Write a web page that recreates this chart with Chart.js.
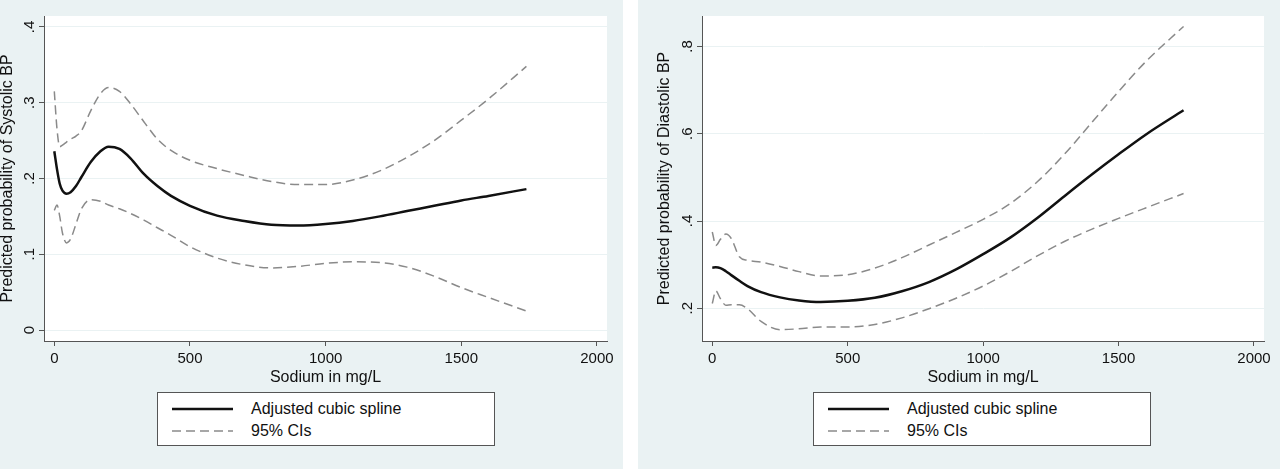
<!DOCTYPE html>
<html>
<head>
<meta charset="utf-8">
<script src="https://cdn.jsdelivr.net/npm/chart.js@4.4.1/dist/chart.umd.min.js"></script>
<style>
  body { margin: 0; background: #ffffff; font-family: "Liberation Sans", Arial, sans-serif; }
  .panel { position: absolute; top: 0; height: 469px; background: #eaf2f3; }
  .panel canvas { position: absolute; left: 0; top: 0; }
  .legend { position: absolute; top: 392px; width: 336px; height: 52px; background: #fff; border: 1px solid #555; }
  .legend .row { position: absolute; left: 13px; height: 20px; }
  .legend svg { position: absolute; left: 0; top: 0; }
  .legend span { position: absolute; left: 80px; top: 0; line-height: 20px; font-size: 16px; color: #111; white-space: nowrap; }
</style>
</head>
<body>
<div class="panel" style="left:0;width:623px;">
  <canvas id="sys" width="623" height="400"></canvas>
  <div class="legend" style="left:157px;">
    <div class="row" style="top:6px;"><svg width="62" height="20"><line x1="1" y1="10" x2="62" y2="10" stroke="#111" stroke-width="2.5"/></svg><span>Adjusted cubic spline</span></div>
    <div class="row" style="top:28px;"><svg width="62" height="20"><line x1="1" y1="10" x2="62" y2="10" stroke="#8a8a8a" stroke-width="1.5" stroke-dasharray="9 5"/></svg><span>95% CIs</span></div>
  </div>
</div>
<div class="panel" style="left:638px;width:642px;">
  <canvas id="dia" width="642" height="400"></canvas>
  <div class="legend" style="left:175px;">
    <div class="row" style="top:6px;"><svg width="62" height="20"><line x1="1" y1="10" x2="62" y2="10" stroke="#111" stroke-width="2.5"/></svg><span>Adjusted cubic spline</span></div>
    <div class="row" style="top:28px;"><svg width="62" height="20"><line x1="1" y1="10" x2="62" y2="10" stroke="#8a8a8a" stroke-width="1.5" stroke-dasharray="9 5"/></svg><span>95% CIs</span></div>
  </div>
</div>
<script>
// sodium (mg/L) grid and values
const sodiumSys = [0, 10, 20, 30, 45, 60, 80, 100, 135, 170, 200, 240, 280, 330, 380, 430, 500, 600, 700, 800, 900, 1000, 1100, 1200, 1300, 1400, 1500, 1600, 1740];
const fitSys   = [0.236, 0.212, 0.193, 0.184, 0.180, 0.182, 0.190, 0.202, 0.222, 0.236, 0.242, 0.239, 0.227, 0.206, 0.190, 0.177, 0.164, 0.151, 0.144, 0.139, 0.138, 0.140, 0.144, 0.150, 0.157, 0.164, 0.171, 0.177, 0.186];
const upperSys = [0.315, 0.265, 0.242, 0.244, 0.248, 0.252, 0.256, 0.263, 0.290, 0.312, 0.320, 0.315, 0.299, 0.275, 0.252, 0.237, 0.224, 0.213, 0.204, 0.196, 0.192, 0.192, 0.198, 0.210, 0.228, 0.250, 0.277, 0.305, 0.348];
const lowerSys = [0.158, 0.165, 0.150, 0.128, 0.115, 0.120, 0.140, 0.160, 0.172, 0.170, 0.165, 0.160, 0.154, 0.145, 0.135, 0.125, 0.110, 0.095, 0.086, 0.082, 0.084, 0.088, 0.090, 0.089, 0.083, 0.071, 0.056, 0.043, 0.025];

// diastolic panel
const sodiumDia = [0, 13, 30, 50, 70, 100, 130, 180, 250, 320, 400, 500, 600, 700, 800, 900, 1000, 1100, 1200, 1300, 1400, 1500, 1600, 1740];
const fitDia   = [0.293, 0.294, 0.292, 0.285, 0.276, 0.263, 0.251, 0.237, 0.225, 0.218, 0.2145, 0.217, 0.224, 0.239, 0.260, 0.289, 0.324, 0.362, 0.407, 0.457, 0.506, 0.553, 0.598, 0.654];
const upperDia = [0.375, 0.344, 0.358, 0.370, 0.360, 0.318, 0.310, 0.306, 0.296, 0.284, 0.274, 0.277, 0.292, 0.316, 0.345, 0.374, 0.404, 0.440, 0.490, 0.553, 0.625, 0.697, 0.765, 0.846];
const lowerDia = [0.211, 0.240, 0.222, 0.207, 0.208, 0.208, 0.199, 0.170, 0.151, 0.153, 0.157, 0.157, 0.163, 0.178, 0.199, 0.223, 0.251, 0.284, 0.320, 0.353, 0.381, 0.406, 0.430, 0.463];

const xTicks = [0, 500, 1000, 1500, 2000];
const yTicksSys = [0, 0.1, 0.2, 0.3, 0.4];
const yTicksDia = [0.2, 0.4, 0.6, 0.8];

const FONT = "'Liberation Sans', Arial, sans-serif";
const AXIS = '#555';

function pts(xs, ys) { return xs.map((x, i) => ({ x: x, y: ys[i] })); }
function stataNum(v) { return v === 0 ? '0' : String(Number(v.toFixed(1))).replace(/^0/, ''); }

const plotBg = {
  id: 'plotBg',
  beforeDraw(chart) {
    const a = chart.chartArea, ctx = chart.ctx;
    ctx.save();
    ctx.fillStyle = '#ffffff';
    ctx.fillRect(a.left, a.top, a.right - a.left, a.bottom - a.top);
    ctx.restore();
  }
};

function makeChart(id, xs, fit, lo, hi, yMin, yMax, yTicks, yTitle, yAxisW, titlePad) {
  const dashed = { borderColor: '#8a8a8a', borderWidth: 1.5, borderDash: [9, 5] };
  return new Chart(id, {
    type: 'line',
    data: {
      datasets: [
        Object.assign({ label: 'upper', data: pts(xs, hi) }, dashed),
        Object.assign({ label: 'lower', data: pts(xs, lo) }, dashed),
        { label: 'Adjusted cubic spline', data: pts(xs, fit), borderColor: '#111', borderWidth: 2.5 }
      ]
    },
    options: {
      responsive: false,
      animation: false,
      layout: { padding: { left: 0, top: 16, right: 16, bottom: 0 } },
      elements: { point: { radius: 0 }, line: { cubicInterpolationMode: 'monotone' } },
      plugins: { legend: { display: false }, tooltip: { enabled: false } },
      scales: {
        x: {
          type: 'linear', min: -38, max: 2037,
          afterBuildTicks: s => { s.ticks = xTicks.map(v => ({ value: v })); },
          afterFit: s => { s.height = 59; s.paddingLeft = 0; s.paddingRight = 0; },
          grid: { drawOnChartArea: false, tickLength: 5, tickColor: AXIS },
          border: { color: AXIS, width: 1 },
          ticks: { padding: 4, color: '#111', font: { family: FONT, size: 15 }, maxRotation: 0, autoSkip: false,
                   callback: v => String(v) },
          title: { display: true, text: 'Sodium in mg/L', color: '#111', font: { family: FONT, size: 16 }, padding: { top: 0, bottom: 13 } }
        },
        y: {
          min: yMin, max: yMax,
          afterBuildTicks: s => { s.ticks = yTicks.map(v => ({ value: v })); },
          afterFit: s => { s.width = yAxisW; s.paddingTop = 0; s.paddingBottom = 0; },
          grid: { color: '#eaf2f3', lineWidth: 1, tickLength: 5, tickColor: AXIS },
          border: { color: AXIS, width: 1 },
          ticks: { minRotation: 90, maxRotation: 90, crossAlign: 'center', padding: 3, color: '#111',
                   font: { family: FONT, size: 15 }, autoSkip: false, callback: v => stataNum(v) },
          title: { display: true, text: yTitle, color: '#111', font: { family: FONT, size: 16, lineHeight: 1 }, padding: { top: titlePad, bottom: 0 } }
        }
      }
    },
    plugins: [plotBg]
  });
}

makeChart('sys', sodiumSys, fitSys, lowerSys, upperSys, -0.0145, 0.4145, yTicksSys, 'Predicted probability of Systolic BP', 44, 0);
makeChart('dia', sodiumDia, fitDia, lowerDia, upperDia, 0.125, 0.870, yTicksDia, 'Predicted probability of Diastolic BP', 64, 19);
</script>
</body>
</html>
